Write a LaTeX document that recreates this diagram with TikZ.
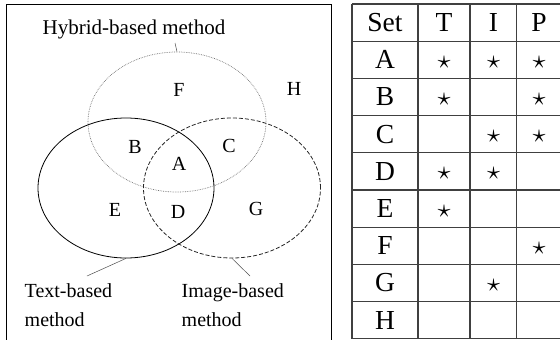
\documentclass[tikz,border=0pt]{standalone}
\usepackage{fontspec}
\setmainfont{Liberation Serif}
\usetikzlibrary{shapes.geometric}
\begin{document}
\begin{tikzpicture}[x=1pt,y=-1pt,
  lbl/.style={font=\fontsize{20}{24}\selectfont, inner sep=0pt},
  cell/.style={font=\fontsize{27.5}{30}\selectfont, inner sep=0pt},
  starcell/.style={inner sep=0pt},
  gridline/.style={draw=black!75, line width=1.2pt},
  leader/.style={draw=black!70, line width=0.5pt},
  venn/.style={shape=ellipse, inner sep=0pt, minimum height=140pt}]
\useasboundingbox (0,0) rectangle (560,340);
% left frame
\draw[line width=1pt] (6,343) -- (6,4) -- (331,4) -- (331,343);
% ellipses
\node[venn, draw=black!55, densely dotted, line width=0.7pt, minimum width=178pt] (hyb) at (177,122) {};
\node[venn, draw=black, line width=0.8pt, minimum width=176pt] (txt) at (126,188) {};
\node[venn, draw=black!85, dash pattern=on 4pt off 2pt, line width=0.8pt, minimum width=177pt] (img) at (232,188) {};
% region labels
\node[lbl] (F) at (179,90) {F};
\node[lbl] (H) at (294,89) {H};
\node[lbl] (B) at (135,147) {B};
\node[lbl] (C) at (229,146) {C};
\node[lbl] (A) at (179,164) {A};
\node[lbl] (E) at (115,210) {E};
\node[lbl] (D) at (178,212) {D};
\node[lbl] (G) at (256,209) {G};
% set labels
\node[lbl, anchor=base, font=\fontsize{21}{24}\selectfont] (hl) at (134,34.7) {Hybrid-based method};
\node[lbl, anchor=base west, align=left, font=\fontsize{20}{29.5}\selectfont] (tl) at (24.5,326.7) {Text-based\\method};
\node[lbl, anchor=base west, align=left, font=\fontsize{20}{29.5}\selectfont] (il) at (181.5,326.7) {Image-based\\method};
\coordinate (hc) at (175,43);
\coordinate (tc) at (87,276);
\coordinate (ic) at (250,276);
\draw[leader] (hyb.north) -- (hc);
\draw[leader] (txt.south) -- (tc);
\draw[leader] (img.south) -- (ic);
% table
\foreach \y in {4,41.2,78.4,115.6,152.8,190,227.2,264.4,301.6,338.8}
  \draw[gridline] (352,\y) -- (565,\y);
\foreach \x in {352,418,470,516.5}
  \draw[gridline] (\x,4) -- (\x,338.8);
\def\rh{37.2}
\foreach \n [count=\i from 0] in {Set,A,B,C,D,E,F,G,H}
  \node[cell] (r\i) at (385,{4+\rh*(\i+0.5)}) {\n};
\node[cell] (hT) at (444,{4+\rh*0.5}) {T};
\node[cell] (hI) at (493.5,{4+\rh*0.5}) {I};
\node[cell] (hP) at (539,{4+\rh*0.5}) {P};
\foreach \c/\r in {444/1,493.5/1,539/1, 444/2,539/2, 493.5/3,539/3, 444/4,493.5/4, 444/5, 539/6, 493.5/7}
  \node[starcell] at (\c,{4+\rh*(\r+0.5)+2.5}) {\scalebox{2.6}{$\star$}};
\end{tikzpicture}
\end{document}
